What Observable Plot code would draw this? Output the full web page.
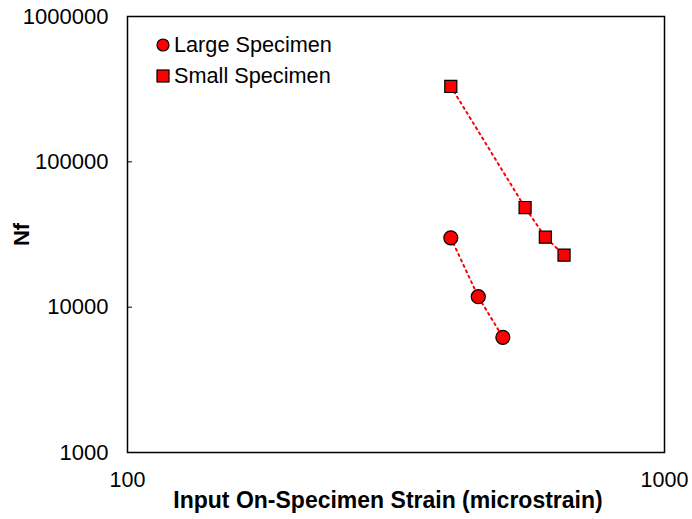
<!DOCTYPE html>
<html>
<head>
<meta charset="utf-8">
<script src="https://cdn.jsdelivr.net/npm/d3@7"></script>
<script src="https://cdn.jsdelivr.net/npm/@observablehq/plot@0.6"></script>
<style>
  html, body { margin: 0; padding: 0; background: #fff; }
  #wrap { position: relative; width: 692px; height: 519px; font-family: "Liberation Sans", Arial, sans-serif; }
  #wrap svg [aria-label$="axis label"] text { font-weight: bold; }
  #wrap svg [aria-label="x-axis label"] text { font-size: 23px; }
  .legend { position: absolute; left: 155px; top: 29px; font-size: 21.7px; color: #000; }
  .legend .row { display: flex; align-items: center; height: 31px; }
  .legend svg { margin-right: 3px; }
</style>
</head>
<body>
<div id="wrap"></div>
<script>
// Data
const largeStrain = [400, 450, 500];
const largeNf = [30000, 11800, 6200];
const smallStrain = [400, 550, 600, 650];
const smallNf = [330000, 48500, 30300, 22800];
const xTicks = [100, 1000];
const yTicks = [1000, 10000, 100000, 1000000];
const seriesNames = ["Large Specimen", "Small Specimen"];

const large = largeStrain.map((x, i) => ({x, y: largeNf[i]}));
const small = smallStrain.map((x, i) => ({x, y: smallNf[i]}));

const chart = Plot.plot({
  width: 692,
  height: 519,
  marginLeft: 127,
  marginRight: 28,
  marginTop: 16,
  marginBottom: 67,
  style: {fontFamily: "Liberation Sans, Arial, sans-serif", fontSize: "21px", color: "#000", background: "#fff", overflow: "visible"},
  x: {type: "log", domain: [100, 1000]},
  y: {type: "log", domain: [1000, 1000000]},
  marks: [
    Plot.axisX(xTicks, {tickSize: 0, tickPadding: 19, fontSize: 21.5, tickFormat: d => String(d),
      label: "Input On-Specimen Strain (microstrain)", labelAnchor: "center", labelArrow: "none", labelOffset: 55}),
    Plot.axisY(yTicks, {tickSize: -5, tickPadding: 24, fontSize: 22, tickFormat: d => String(d),
      label: "Nf", labelAnchor: "center", labelArrow: "none", labelOffset: 114}),
    Plot.line(large, {x: "x", y: "y", stroke: "#ff0000", strokeWidth: 2, strokeDasharray: "2 4"}),
    Plot.line(small, {x: "x", y: "y", stroke: "#ff0000", strokeWidth: 2, strokeDasharray: "2 4"}),
    Plot.dot(large, {x: "x", y: "y", r: 7, symbol: "circle", fill: "#ff0000", stroke: "#000", strokeWidth: 1.2}),
    Plot.dot(small, {x: "x", y: "y", r: 6.8, symbol: "square", fill: "#ff0000", stroke: "#000", strokeWidth: 1.2}),
    Plot.frame({stroke: "#000", strokeWidth: 1.5})
  ]
});

// nudge the x-axis title slightly left, as in the reference
d3.select(chart).selectAll('[aria-label="x-axis label"] text').attr("dx", -8);

const wrap = document.getElementById("wrap");
wrap.appendChild(chart);

const legend = document.createElement("div");
legend.className = "legend";
legend.innerHTML =
  `<div class="row"><svg width="16" height="16"><circle cx="8" cy="8" r="6" fill="#ff0000" stroke="#000" stroke-width="1.2"/></svg><span>${seriesNames[0]}</span></div>` +
  `<div class="row"><svg width="16" height="16"><rect x="2" y="2" width="12" height="12" fill="#ff0000" stroke="#000" stroke-width="1.2"/></svg><span>${seriesNames[1]}</span></div>`;
wrap.appendChild(legend);
</script>
</body>
</html>
